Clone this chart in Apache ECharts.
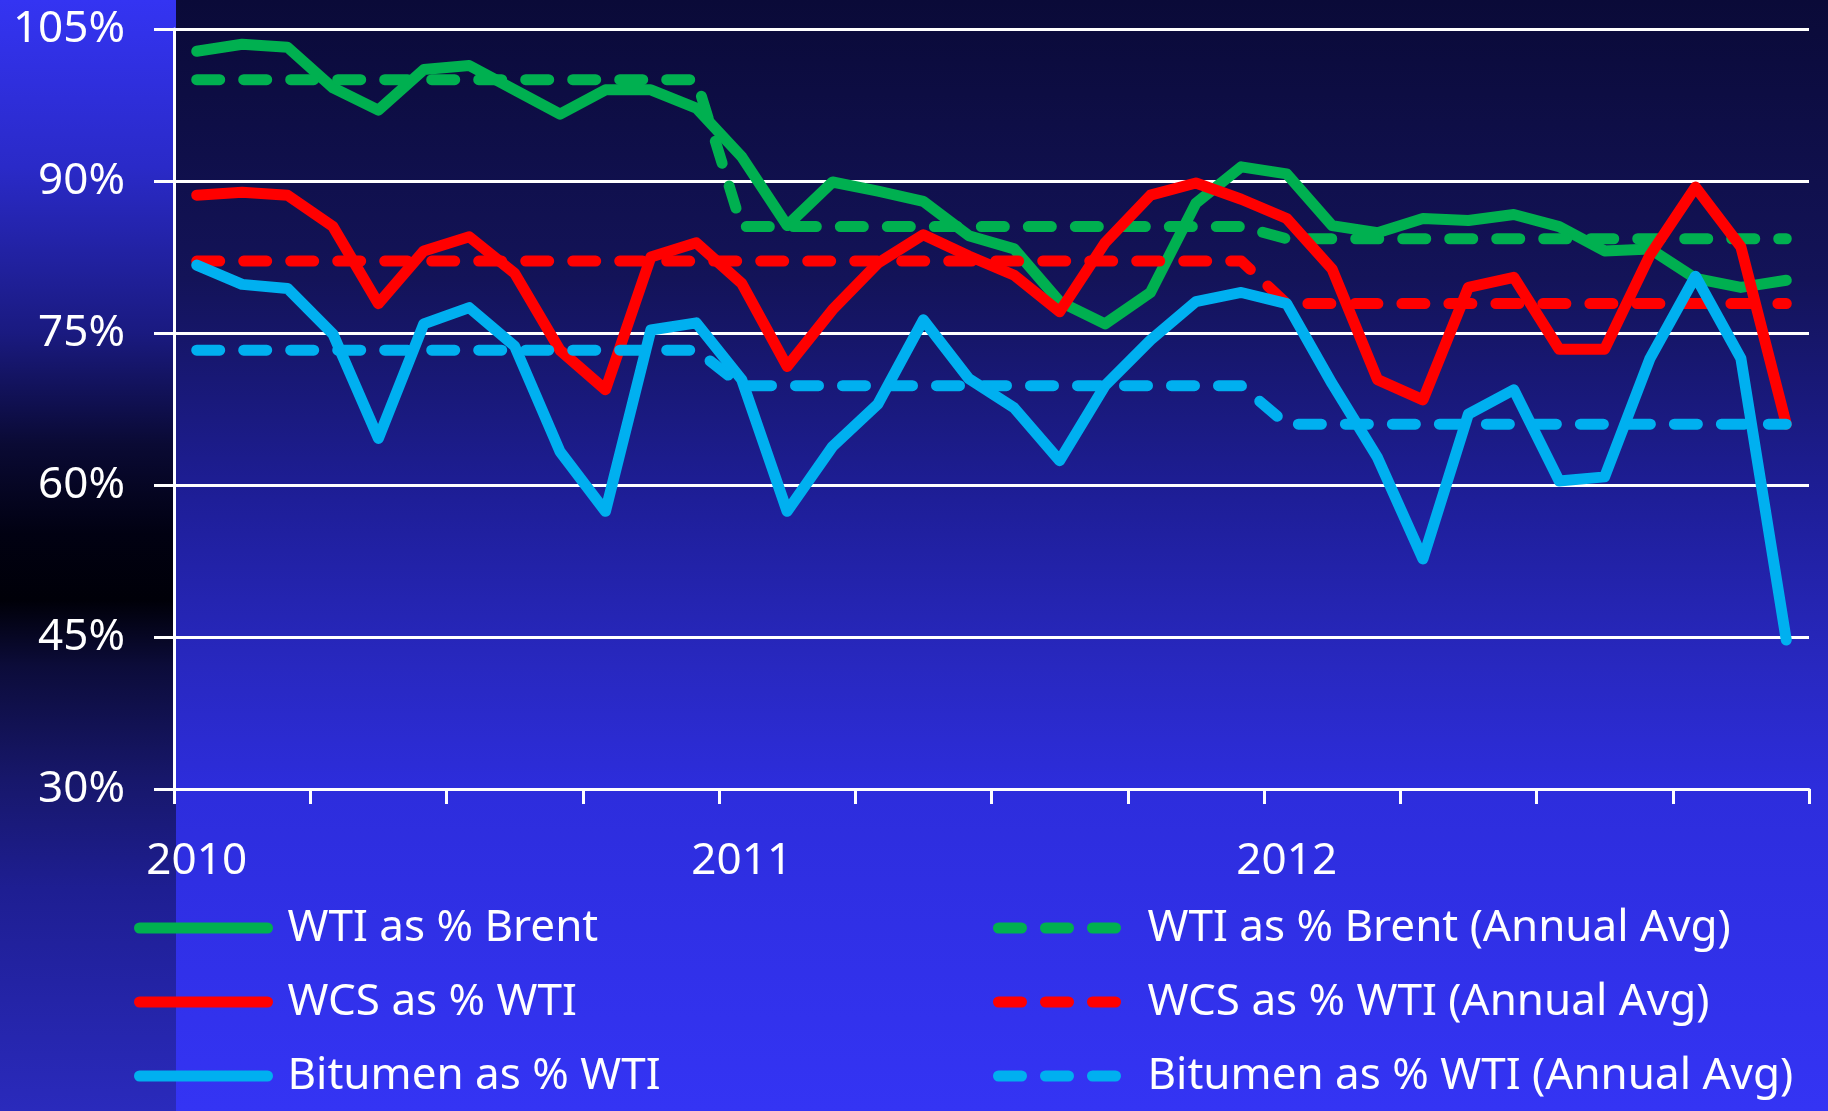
<!DOCTYPE html>
<html>
<head>
<meta charset="utf-8">
<title>WTI, WCS and Bitumen price ratios 2010-2012</title>
<script src="https://cdn.jsdelivr.net/npm/echarts@6/dist/echarts.min.js"></script>
<style>
  html, body { margin: 0; padding: 0; background: #0a0a38; }
  #chart { width: 1828px; height: 1111px; }
</style>
</head>
<body>
<div id="chart"></div>
<script>
// monthly categories, Jan 2010 .. Dec 2012
const months = [
  '2010-01', '2010-02', '2010-03', '2010-04', '2010-05', '2010-06',
  '2010-07', '2010-08', '2010-09', '2010-10', '2010-11', '2010-12',
  '2011-01', '2011-02', '2011-03', '2011-04', '2011-05', '2011-06',
  '2011-07', '2011-08', '2011-09', '2011-10', '2011-11', '2011-12',
  '2012-01', '2012-02', '2012-03', '2012-04', '2012-05', '2012-06',
  '2012-07', '2012-08', '2012-09', '2012-10', '2012-11', '2012-12'
]
const years = ['2010', '2011', '2012']

// monthly ratios, %
const wtiBrent = [
  102.8, 103.5, 103.2, 99.2, 97.0, 101.0, 101.4, 99.0, 96.6, 99.0, 99.0, 97.2,
  92.4, 85.6, 89.9, 89.0, 88.0, 84.6, 83.3, 78.1, 75.9, 79.0, 87.8, 91.4,
  90.7, 85.6, 84.9, 86.3, 86.1, 86.7, 85.5, 83.1, 83.3, 80.4, 79.5, 80.2
]
const wcsWti = [
  88.6, 88.9, 88.6, 85.5, 77.9, 83.1, 84.5, 80.9, 73.3, 69.4, 82.5, 83.9,
  79.9, 71.7, 77.3, 81.9, 84.7, 82.6, 80.7, 77.1, 83.9, 88.6, 89.8, 88.2,
  86.3, 81.3, 70.4, 68.4, 79.5, 80.5, 73.4, 73.4, 82.7, 89.4, 83.5, 66.0
]
const bitumenWti = [
  81.7, 79.8, 79.4, 74.9, 64.6, 75.9, 77.5, 73.7, 63.3, 57.4, 75.3, 76.0,
  70.4, 57.4, 63.8, 68.0, 76.3, 70.5, 67.6, 62.4, 69.8, 74.3, 78.1, 79.0,
  77.9, 70.0, 62.7, 52.7, 67.0, 69.4, 60.4, 60.8, 72.5, 80.6, 72.5, 44.7
]

// annual averages, one per year
const wtiBrentAvg = [100.0, 85.5, 84.3]
const wcsWtiAvg = [82.1, 82.1, 77.9]
const bitumenWtiAvg = [73.3, 69.8, 66.0]

// y axis ticks
const yTicks = [30, 45, 60, 75, 90, 105]

const GREEN = '#00b050'
const RED = '#ff0000'
const BLUE = '#00b0f0'
const FONT = 'Noto Sans'
const LINE_W = 11
const DASH = [23, 24]

const perMonth = (avg) => months.map(m => avg[years.indexOf(m.slice(0, 4))])

const lineSeries = (name, data, color, dashed) => ({
  name,
  type: 'line',
  data,
  symbol: 'none',
  silent: true,
  itemStyle: { color },
  lineStyle: {
    color,
    width: LINE_W,
    type: dashed ? DASH : 'solid',
    cap: 'round',
    join: 'round'
  }
})

const legendBase = {
  orient: 'vertical',
  top: 903,
  padding: 0,
  itemHeight: 14,
  itemGap: 24,
  selectedMode: false,
  lineStyle: { width: LINE_W, cap: 'round', join: 'round' },
  itemStyle: { opacity: 0 }
}

const chart = echarts.init(document.getElementById('chart'), null, { renderer: 'canvas' })

chart.setOption({
  animation: false,
  graphic: [
    {
      type: 'rect',
      z: -100,
      silent: true,
      shape: { x: 0, y: 0, width: 1828, height: 1111 },
      style: {
        fill: new echarts.graphic.LinearGradient(0, 0, 0, 1, [
          { offset: 0, color: '#0a0a38' },
          { offset: 0.25, color: '#131358' },
          { offset: 0.45, color: '#1e1e98' },
          { offset: 0.6, color: '#2828c0' },
          { offset: 0.71, color: '#2d2ddc' },
          { offset: 1, color: '#3434f4' }
        ])
      }
    },
    {
      type: 'rect',
      z: -99,
      silent: true,
      shape: { x: 0, y: 0, width: 176, height: 1111 },
      style: {
        fill: new echarts.graphic.LinearGradient(0, 0, 0, 1, [
          { offset: 0, color: '#3434f2' },
          { offset: 0.15, color: '#2a2ac8' },
          { offset: 0.3, color: '#1a1a80' },
          { offset: 0.4, color: '#0a0a34' },
          { offset: 0.48, color: '#010112' },
          { offset: 0.54, color: '#000008' },
          { offset: 0.6, color: '#0c0c3a' },
          { offset: 0.7, color: '#17176a' },
          { offset: 0.8, color: '#1e1e92' },
          { offset: 1, color: '#2a2abc' }
        ])
      }
    }
  ],
  grid: {
    left: 174,
    right: 19,
    top: 29,
    bottom: 322,
    containLabel: false,
    outerBoundsMode: 'none'
  },
  legend: [
    {
      ...legendBase,
      left: 134,
      itemWidth: 128,
      data: ['WTI as % Brent', 'WCS as % WTI', 'Bitumen as % WTI'],
      textStyle: { color: '#fff', fontFamily: FONT, fontSize: 44, lineHeight: 50, padding: [0, 0, 0, 15] }
    },
    {
      ...legendBase,
      left: 993,
      itemWidth: 117,
      data: ['WTI as % Brent (Annual Avg)', 'WCS as % WTI (Annual Avg)', 'Bitumen as % WTI (Annual Avg)'],
      textStyle: { color: '#fff', fontFamily: FONT, fontSize: 44, lineHeight: 50, padding: [0, 0, 0, 27] }
    }
  ],
  xAxis: {
    type: 'category',
    data: months,
    boundaryGap: true,
    axisLine: { lineStyle: { color: '#fff', width: 3 } },
    axisTick: {
      show: true,
      length: 15,
      alignWithLabel: false,
      interval: (i) => i % 3 === 0,
      lineStyle: { color: '#fff', width: 3 }
    },
    axisLabel: {
      interval: (i) => i % 12 === 0,
      formatter: (v) => v.slice(0, 4),
      color: '#fff',
      fontFamily: FONT,
      fontSize: 44,
      margin: 50
    },
    splitLine: { show: false }
  },
  yAxis: {
    type: 'value',
    min: yTicks[0],
    max: yTicks[yTicks.length - 1],
    interval: yTicks[1] - yTicks[0],
    axisLine: { show: true, lineStyle: { color: '#fff', width: 3 } },
    axisTick: { show: true, length: 20, lineStyle: { color: '#fff', width: 3 } },
    axisLabel: {
      formatter: '{value}%',
      color: '#fff',
      fontFamily: FONT,
      fontSize: 44,
      margin: 49,
      padding: [5, 0, 0, 0]
    },
    splitLine: { lineStyle: { color: '#fff', width: 3 } }
  },
  series: [
    lineSeries('WTI as % Brent', wtiBrent, GREEN, false),
    lineSeries('WTI as % Brent (Annual Avg)', perMonth(wtiBrentAvg), GREEN, true),
    lineSeries('WCS as % WTI', wcsWti, RED, false),
    lineSeries('WCS as % WTI (Annual Avg)', perMonth(wcsWtiAvg), RED, true),
    lineSeries('Bitumen as % WTI', bitumenWti, BLUE, false),
    lineSeries('Bitumen as % WTI (Annual Avg)', perMonth(bitumenWtiAvg), BLUE, true)
  ]
})
</script>
</body>
</html>
